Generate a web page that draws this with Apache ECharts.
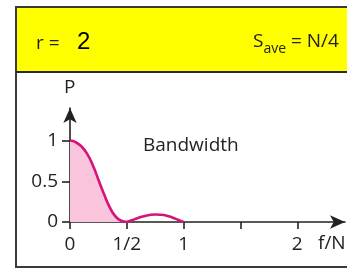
<!DOCTYPE html>
<html>
<head>
<meta charset="utf-8">
<script src="https://cdn.jsdelivr.net/npm/echarts@6/dist/echarts.min.js"></script>
<style>
  html, body { margin: 0; padding: 0; background: #fff; }
  #chart { width: 347px; height: 269px; }
</style>
</head>
<body>
<div id="chart"></div>
<script>
// main lobe (filled) and side lobe
const mainF = [0, 0.05, 0.1, 0.15, 0.2, 0.25, 0.3, 0.35, 0.4, 0.45, 0.5]
const mainP = [1, 0.98, 0.93, 0.84, 0.7, 0.52, 0.34, 0.18, 0.07, 0.015, 0]
const sideF = [0.5, 0.55, 0.6, 0.65, 0.7, 0.75, 0.8, 0.85, 0.9, 0.95, 1]
const sideP = [0, 0.025, 0.05, 0.072, 0.087, 0.093, 0.09, 0.078, 0.055, 0.028, 0]

const xTicks = [0, 0.5, 1, 1.5, 2]
const xTickLabels = ['0', '1/2', '1', '', '2']
const yTicks = [0, 0.5, 1]
const yTickLabels = ['0', '0.5', '1']

const font = '"Open Sans", sans-serif'
const ink = '#222'
const curve = '#d4147a'

const chart = echarts.init(document.getElementById('chart'))

const axisCommon = {
  axisLine: { lineStyle: { color: ink, width: 1.6 }, symbol: ['none', 'arrow'], symbolSize: [10, 15] },
  axisTick: { length: 7, lineStyle: { color: ink, width: 1.6 } },
  splitLine: { show: false }
}

chart.setOption({
  animation: false,
  grid: { left: 70, right: 2, top: 108, bottom: 47 },
  xAxis: {
    type: 'value',
    min: 0,
    max: 2.42,
    ...axisCommon,
    axisTick: { ...axisCommon.axisTick, customValues: xTicks },
    axisLabel: {
      customValues: xTicks,
      formatter: v => xTickLabels[xTicks.indexOf(v)] ?? '',
      color: ink, fontFamily: font, fontSize: 19, margin: 13
    }
  },
  yAxis: {
    type: 'value',
    min: 0,
    max: 1.4,
    ...axisCommon,
    axisTick: { ...axisCommon.axisTick, length: 8, customValues: yTicks },
    axisLabel: {
      customValues: yTicks,
      formatter: v => yTickLabels[yTicks.indexOf(v)] ?? '',
      color: ink, fontFamily: font, fontSize: 19, margin: 12
    }
  },
  series: [
    {
      type: 'line',
      smooth: true,
      symbol: 'none',
      data: mainF.map((f, i) => [f, mainP[i]]),
      lineStyle: { color: curve, width: 2.6 },
      areaStyle: { color: '#f9c4dc', opacity: 1 }
    },
    {
      type: 'line',
      smooth: true,
      symbol: 'none',
      data: sideF.map((f, i) => [f, sideP[i]]),
      lineStyle: { color: curve, width: 2.6 }
    }
  ],
  graphic: [
    // yellow header band and frame
    { type: 'rect', z: -10, shape: { x: 16, y: 7, width: 360, height: 65 }, style: { fill: '#ffff00' } },
    { type: 'rect', z: 10, shape: { x: 16, y: 7, width: 360, height: 260 }, style: { fill: 'none', stroke: '#3a3a3a', lineWidth: 2 } },
    { type: 'line', z: 10, shape: { x1: 16, y1: 72, x2: 347, y2: 72 }, style: { stroke: '#2a2a2a', lineWidth: 2 } },
    { type: 'text', z: 20, left: 36, top: 34, style: { text: 'r =', font: '19px ' + font, fill: ink } },
    { type: 'text', z: 20, left: 77, top: 30, style: { text: '2', font: '24px Arial, "Liberation Sans", sans-serif', fill: '#000' } },
    {
      type: 'text', z: 20, left: 253, top: 32,
      style: {
        text: '{s|S}{sub|ave}{s| = N/4}',
        fill: ink,
        rich: {
          s: { fontFamily: font, fontSize: 19, fill: ink, verticalAlign: 'bottom', lineHeight: 24 },
          sub: { fontFamily: font, fontSize: 14, fill: ink, verticalAlign: 'bottom', padding: [0, 0, -5, 0], lineHeight: 24 }
        }
      }
    },
    { type: 'text', z: 20, left: 143, top: 136, style: { text: 'Bandwidth', font: '19px ' + font, fill: ink } },
    { type: 'text', z: 20, left: 64, top: 78, style: { text: 'P', font: '19px ' + font, fill: ink } },
    { type: 'text', z: 20, left: 318, top: 234, style: { text: 'f/N', font: '19px ' + font, fill: ink } }
  ]
})
</script>
</body>
</html>
